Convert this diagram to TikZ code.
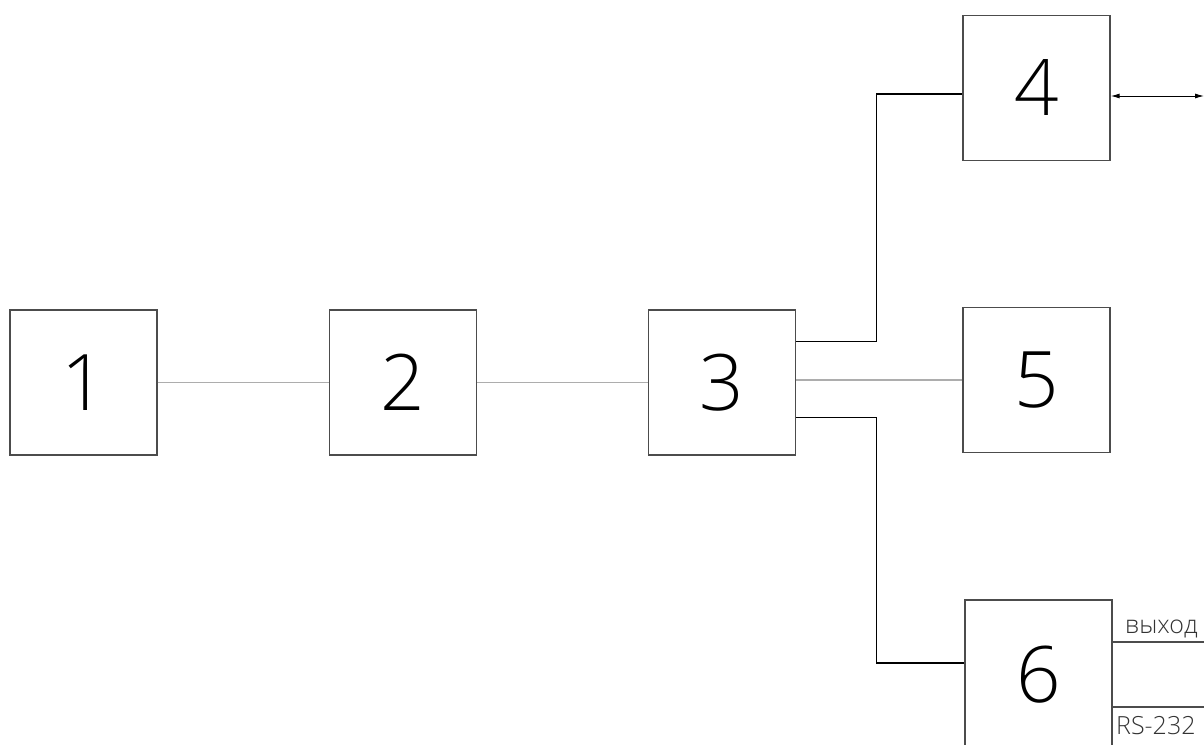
\documentclass[tikz,border=0pt]{standalone}
\usepackage{fontspec}
\setmainfont{Open Sans Light}
\usetikzlibrary{arrows.meta}
\begin{document}
\begin{tikzpicture}[x=1pt,y=-1pt,
  blk/.style={draw=black!70,line width=1.3pt,minimum width=147pt,minimum height=145pt,inner sep=0pt,font=\fontsize{78}{80}\selectfont},
  wire/.style={draw=black,line width=1.1pt},
  gwire/.style={draw=black!32,line width=1.3pt},
  lbl/.style={inner sep=0pt,font=\fontsize{25}{28}\selectfont,text=black!80}]
\useasboundingbox (0,0) rectangle (1204,744);
\node[blk] (b1) at (83.5,382.5) {1};
\node[blk] (b2) at (403,382.5) {2};
\node[blk] (b3) at (722,382.5) {3};
\node[blk] (b4) at (1036.5,88) {4};
\node[blk] (b5) at (1036.5,380) {5};
\node[blk,minimum height=152pt,text depth=0pt] (b6) at (1038.5,676) {\raisebox{4pt}{6}};
\coordinate (r4) at (1204,96);
\coordinate (o1) at (1204,642);
\coordinate (o2) at (1204,707);
\draw[gwire] (b1.east) -- (b2.west);
\draw[gwire] (b2.east) -- (b3.west);
\draw[gwire] (b3.east|-b5.west) -- (b5.west);
\draw[wire] ([yshift=-32pt]b3.north east) -- ++(80,0) |- ([yshift=-6pt]b4.west);
\draw[wire] ([yshift=38pt]b3.south east) -- ++(80,0) |- ([yshift=13pt]b6.west);
\draw[wire,line width=1pt,{Latex[length=9pt,width=5pt]}-{Latex[length=9pt,width=5pt]}] (b4.east|-r4) -- (r4);
\draw[wire,draw=black!70] (b6.east|-o1) -- (o1);
\draw[wire,draw=black!70] (b6.east|-o2) -- (o2);
\node[lbl,anchor=base west] (t1) at (1125,633) {выход};
\node[lbl,anchor=base west] (t2) at (1116,734) {RS-232};
\end{tikzpicture}
\end{document}
